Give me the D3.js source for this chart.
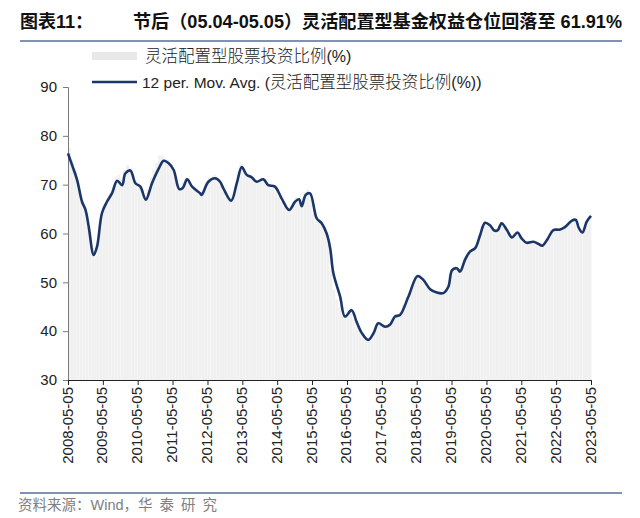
<!DOCTYPE html>
<html><head><meta charset="utf-8">
<script src="https://cdn.jsdelivr.net/npm/d3@7"></script>
<style>
body{margin:0;background:#fff;}
svg{display:block;}
</style></head>
<body>
<svg id="c" width="640" height="518"></svg>
<script>
// ---- data ----
const titleLead = "图表11：";
const titleText = "节后（05.04-05.05）灵活配置型基金权益仓位回落至 61.91%";
const sourceLead = "资料来源：Wind，";
const sourceTail = "华泰研究";
const barLabel = "灵活配置型股票投资比例";
const lineLabelPrefix = "12 per. Mov. Avg. (";
const yTicks = [30, 40, 50, 60, 70, 80, 90];
const xTickLabels = ["2008-05-05","2009-05-05","2010-05-05","2011-05-05","2012-05-05","2013-05-05","2014-05-05","2015-05-05","2016-05-05","2017-05-05","2018-05-05","2019-05-05","2020-05-05","2021-05-05","2022-05-05","2023-05-05"];
// monthly raw values (bars), starting 2008-05
const barStart = "2008-05-05";
const barValues = [
 77.5,75,73,70.5,67.5,66,64,60.5,
 57,55.5,58.5,64,66,67,68,69.5,71.5,72,71,73,
 74,73.5,72,71,70,68.5,67.5,69,71.5,73,74.5,76,
 76,75.5,75,74,72.5,70.5,69,70.5,71.5,71,69.5,69,
 68.5,68,68.5,70.5,71.5,71.5,72,71,70,68.5,67.5,67,
 67.5,69.5,72,74.5,73,72,71.5,71.5,70.5,70.5,71.5,71,
 70,69.8,69.5,68.5,67.5,66.5,65.5,64.5,65.5,66.5,67.5,67,
 66,68.5,69,67,64,62.5,62.5,61.5,60.5,58,52.5,48.5,
 46.5,45,43.5,43,44.5,44.5,42.5,41,40,39.5,38.5,38,
 39,40.5,42,41.5,41,41,41.5,42.5,43.5,43.5,44,45.5,
 47,48,49.5,51,51.5,51,50,49,48.4,48,47.8,47.7,
 47.6,48,49,51.5,53,53,52.5,53,55,55.5,56.5,57,
 57.5,59.5,61.5,62.5,62,61.5,60.5,61,62,62.3,61,60.2,
 59.5,60.2,60.5,59.5,58.8,58,58.4,58.5,58,57.8,57.5,57.6,
 58.7,59.8,60.6,61,60.8,61,61.3,61.7,62.4,62.9,62.7,60.8,
 60,60.5,62.8,63.5,63.8
];
// 12-period moving average line, traced points
const maDates = ["2008-05-05","2008-06-17","2008-08-08","2008-09-29","2008-11-05","2008-12-08","2009-01-29","2009-03-05","2009-04-26","2009-06-17","2009-08-08","2009-10-02","2009-11-23","2009-12-26","2010-02-17","2010-04-11","2010-06-02","2010-07-29","2010-10-02","2010-12-11","2011-02-01","2011-03-26","2011-05-17","2011-07-14","2011-08-20","2011-10-05","2011-11-26","2012-02-20","2012-03-05","2012-05-14","2012-07-23","2012-09-14","2012-10-17","2013-01-08","2013-03-08","2013-04-29","2013-06-20","2013-08-11","2013-10-02","2013-12-11","2014-02-01","2014-04-11","2014-06-20","2014-09-08","2014-11-08","2014-12-20","2015-01-17","2015-02-28","2015-04-14","2015-06-23","2015-08-14","2015-10-05","2015-11-11","2015-12-14","2016-02-23","2016-04-14","2016-06-23","2016-08-14","2016-10-08","2016-12-14","2017-02-08","2017-03-29","2017-06-08","2017-07-29","2017-09-20","2017-11-11","2018-02-08","2018-05-14","2018-07-14","2018-09-23","2018-12-02","2019-02-08","2019-04-02","2019-05-11","2019-06-29","2019-08-02","2019-09-23","2019-11-14","2020-01-08","2020-02-29","2020-04-20","2020-06-11","2020-07-26","2020-09-01","2020-10-11","2020-12-05","2021-01-26","2021-03-26","2021-05-08","2021-06-29","2021-09-08","2021-10-29","2021-12-11","2022-02-08","2022-04-05","2022-06-14","2022-08-05","2022-10-14","2022-11-26","2022-12-29","2023-02-05","2023-03-20","2023-05-05"];
const maValues = [76.4,74.0,71.0,66.5,64.8,61.4,55.6,57.3,64.2,66.5,68.2,70.8,69.9,72.3,72.9,70.3,69.6,66.9,70.3,73.3,74.9,74.4,73.0,69.1,69.3,71.1,69.6,68.2,67.9,70.6,71.3,70.6,69.3,66.7,70.3,73.6,72.0,71.5,70.6,71.1,69.9,69.6,67.2,64.8,66.5,67.0,65.6,67.9,68.2,63.1,62.1,60.0,57.0,51.9,47.1,43.0,44.3,41.9,39.6,38.2,39.6,41.6,40.9,41.3,43.0,43.3,47.1,51.3,50.5,48.6,47.9,47.8,49.1,52.5,52.9,52.2,54.6,56.3,57.0,59.7,62.2,61.7,60.6,60.7,62.1,60.7,59.2,60.2,59.0,58.1,58.3,57.9,57.5,59.0,60.7,60.8,61.3,62.6,62.8,61.1,60.2,62.4,63.6];

// ---- drawing ----
const parse = d3.timeParse("%Y-%m-%d");
const svg = d3.select("#c");
const M = {l:68, r:591, t:87, b:380};
const x = d3.scaleTime().domain([parse(xTickLabels[0]), parse(xTickLabels[xTickLabels.length-1])]).range([M.l, M.r]);
const y = d3.scaleLinear().domain([30, 90]).range([M.b, M.t]);
const fontLatin = "'Liberation Sans', Arial, 'Noto Sans CJK SC', sans-serif";
const fontCJK = "'Liberation Sans', 'Noto Sans CJK SC', sans-serif";

// title
svg.append("text").attr("x", 20).attr("y", 28).attr("font-family", fontCJK)
  .attr("font-weight", "bold").attr("font-size", 18).attr("fill", "#111").text(titleLead);
svg.append("text").attr("x", 133).attr("y", 28).attr("font-family", fontCJK)
  .attr("font-weight", "bold").attr("font-size", 18).attr("fill", "#111")
  .attr("textLength", 489).attr("lengthAdjust", "spacingAndGlyphs").text(titleText);
svg.append("line").attr("x1", 20).attr("x2", 622).attr("y1", 41).attr("y2", 41)
  .attr("stroke", "#7f92b3").attr("stroke-width", 2);

// bars
const start = parse(barStart);
const bars = barValues.map((v, i) => ({d0: d3.timeMonth.offset(start, i), d1: d3.timeMonth.offset(start, i + 1), v}));
svg.append("g").selectAll("rect").data(bars).join("rect")
  .attr("x", d => x(d.d0))
  .attr("width", d => Math.max(0.5, Math.min(x(d.d1), M.r) - x(d.d0) - 0.2))
  .attr("y", d => y(d.v))
  .attr("height", d => y(30) - y(d.v))
  .attr("fill", "#f0f0f0");

// axes
const yAxis = d3.axisLeft(y).tickValues(yTicks).tickSize(5).tickPadding(6);
const gy = svg.append("g").attr("transform", `translate(${M.l},0)`).call(yAxis);
gy.select(".domain").attr("stroke", "#7a7a7a");
gy.selectAll(".tick line").attr("stroke", "#7a7a7a");
gy.selectAll("text").attr("font-family", fontLatin).attr("font-size", 15).attr("fill", "#222");

const xAxis = d3.axisBottom(x).tickValues(xTickLabels.map(parse)).tickFormat(d3.timeFormat("%Y-%m-%d")).tickSize(5).tickSizeOuter(0);
const gx = svg.append("g").attr("transform", `translate(0,${M.b})`).call(xAxis);
gx.select(".domain").attr("stroke", "#222");
gx.selectAll(".tick line").attr("stroke", "#222");
gx.selectAll("text").attr("font-family", fontLatin).attr("font-size", 15).attr("fill", "#222")
  .attr("transform", "rotate(-90)").attr("text-anchor", "end").attr("dx", "-7").attr("dy", "-0.1em").attr("y", 0).attr("x", 0)
  .style("dominant-baseline", "central");

// MA line
const ma = maDates.map((d, i) => ({d: parse(d), v: maValues[i]}));
svg.append("path").datum(ma)
  .attr("d", d3.line().x(d => x(d.d)).y(d => y(d.v)).curve(d3.curveCatmullRom.alpha(0.5)))
  .attr("fill", "none").attr("stroke", "#1b3668").attr("stroke-width", 2.6).attr("stroke-linejoin", "round");

// legend
const lg = svg.append("g");
lg.append("rect").attr("x", 92).attr("y", 52).attr("width", 45).attr("height", 8).attr("fill", "#e8e8e8");
const t1 = lg.append("text").attr("x", 145).attr("y", 62).attr("font-family", fontCJK).attr("fill", "#222");
t1.append("tspan").attr("font-size", 16.5).attr("font-weight", 300).text(barLabel);
t1.append("tspan").attr("font-size", 16).text("(%)");
lg.append("line").attr("x1", 92).attr("x2", 137).attr("y1", 82).attr("y2", 82).attr("stroke", "#1b3668").attr("stroke-width", 2.6);
const t2 = lg.append("text").attr("x", 142).attr("y", 88).attr("font-family", fontCJK).attr("fill", "#222");
t2.append("tspan").attr("font-size", 15.5).text(lineLabelPrefix);
t2.append("tspan").attr("font-size", 16.5).attr("font-weight", 300).text(barLabel);
t2.append("tspan").attr("font-size", 16).text("(%))");

// footer
svg.append("line").attr("x1", 20).attr("x2", 622).attr("y1", 493).attr("y2", 493)
  .attr("stroke", "#7f92b3").attr("stroke-width", 2);
const st = svg.append("text").attr("x", 18).attr("y", 510).attr("font-family", fontCJK).attr("font-size", 14.5).attr("fill", "#808080");
st.append("tspan").text(sourceLead);
st.append("tspan").attr("letter-spacing", 7).text(sourceTail);
</script>
</body></html>
